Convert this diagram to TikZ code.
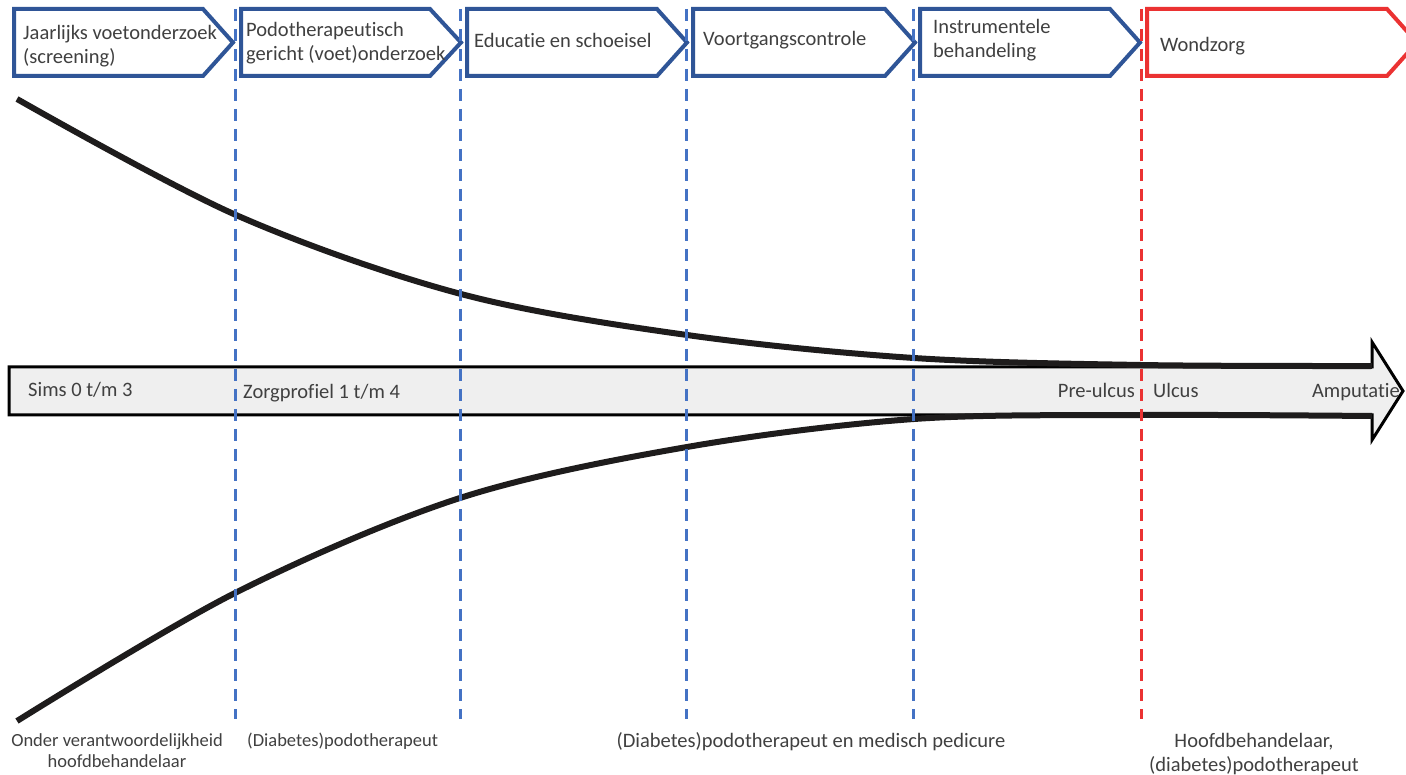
\documentclass[tikz,border=0pt]{standalone}
\usepackage{fontspec}
\setmainfont{Carlito}[Ligatures=NoCommon]
\definecolor{chevblue}{RGB}{47,85,151}
\definecolor{dashblue}{RGB}{68,114,196}
\definecolor{wred}{RGB}{235,50,50}
\definecolor{txt}{RGB}{64,64,64}
\definecolor{arrowfill}{RGB}{239,239,239}
\begin{document}
\begin{tikzpicture}[x=1pt,y=-1pt,
  chev/.style={line width=4pt, draw=chevblue, fill=white, line join=miter},
  chevred/.style={chev, draw=wred},
  guide/.style={line width=3pt, dash pattern=on 12pt off 8pt},
  curve/.style={line width=6pt, draw={rgb,255:red,30;green,28;blue,28}},
  lbl/.style={font=\fontsize{20.5}{24}\selectfont, text=txt, inner sep=0pt},
  smalllbl/.style={lbl, font=\fontsize{18.5}{21}\selectfont},
]
\useasboundingbox (0,0) rectangle (1406,775);
\clip (0,0) rectangle (1406,775);

% chevrons
\draw[chev] (14,9) -- (203,9) -- (233,42.5) -- (203,76) -- (14,76) -- cycle;
\draw[chev] (241,9) -- (430,9) -- (461,42.5) -- (430,76) -- (241,76) -- cycle;
\draw[chev] (467,9) -- (657,9) -- (687,42.5) -- (657,76) -- (467,76) -- cycle;
\draw[chev] (693,9) -- (885,9) -- (915,42.5) -- (885,76) -- (693,76) -- cycle;
\draw[chev] (920,9) -- (1110,9) -- (1140,42.5) -- (1110,76) -- (920,76) -- cycle;
\draw[chevred] (1147,9) -- (1387,9) -- (1417,42.5) -- (1387,76) -- (1147,76) -- cycle;

% big arrow
\draw[line width=3pt, fill=arrowfill, line join=miter]
  (9,367) -- (1372,367) -- (1372,342) -- (1403,391) -- (1372,440) -- (1372,415) -- (9,415) -- cycle;

% curves
\draw[curve] plot[smooth, tension=0.55] coordinates
  {(17,99) (236,215) (461,294) (687,335) (914,358) (1141,365) (1372,366)};
\draw[curve] plot[smooth, tension=0.55] coordinates
  {(17,721) (235,593) (460,498) (687,447) (914,419) (1141,415) (1372,416)};

% guides
\foreach \x in {235,460,686,913}
  \draw[guide, draw=dashblue] (\x,9) -- (\x,719);
\draw[guide, draw=wred] (1141,9) -- (1141,719);

% chevron labels (base anchor = last line)
\node[lbl, anchor=base west, align=left] (c1) at (23,64) {Jaarlijks voetonderzoek\\(screening)};
\node[lbl, anchor=base west, align=left] (c2) at (246,61) {Podotherapeutisch\\gericht (voet)onderzoek};
\node[lbl, anchor=base west] (c3) at (474,48) {Educatie en schoeisel};
\node[lbl, anchor=base west] (c4) at (703,46) {Voortgangscontrole};
\node[lbl, anchor=base west, align=left] (c5) at (933,58) {Instrumentele\\behandeling};
\node[lbl, anchor=base west] (c6) at (1160,52) {Wondzorg};

% arrow labels
\node[lbl, anchor=base west] (a1) at (28,397) {Sims 0 t/m 3};
\node[lbl, anchor=base west] (a2) at (243,399) {Zorgprofiel 1 t/m 4};
\node[lbl, anchor=base east] (a3) at (1135,398) {Pre-ulcus};
\node[lbl, anchor=base west] (a4) at (1153,398) {Ulcus};
\node[lbl, anchor=base east] (a5) at (1400,398) {Amputatie};

% bottom labels
\node[smalllbl, anchor=base, align=center] (b1) at (117,767) {Onder verantwoordelijkheid\\hoofdbehandelaar};
\node[smalllbl, anchor=base west] (b2) at (247,746) {(Diabetes)podotherapeut};
\node[lbl, anchor=base] (b3) at (811,747) {(Diabetes)podotherapeut en medisch pedicure};
\node[lbl, anchor=base, align=center] (b4) at (1254,771) {Hoofdbehandelaar,\\(diabetes)podotherapeut};
\end{tikzpicture}
\end{document}
